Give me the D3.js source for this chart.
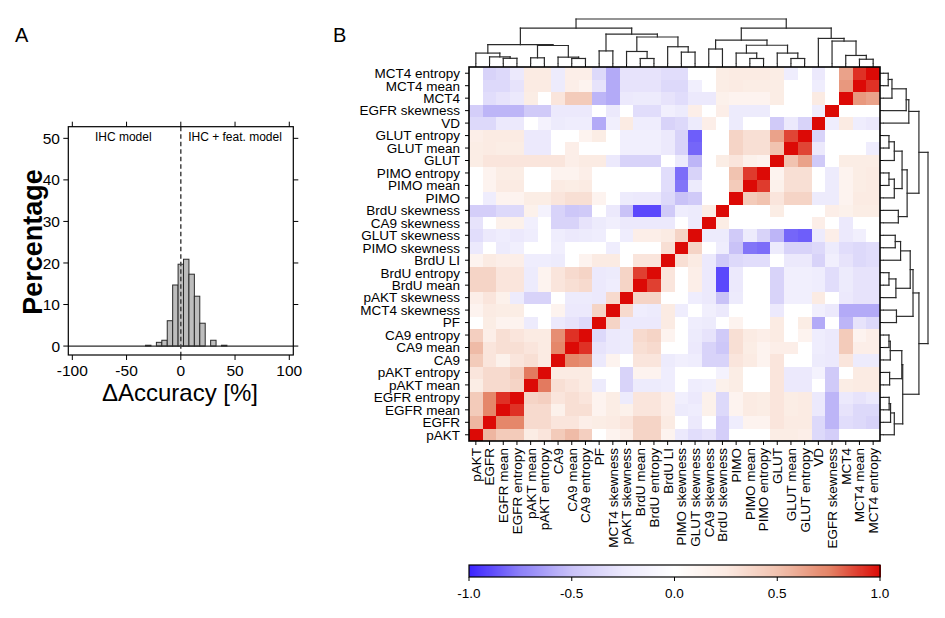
<!DOCTYPE html>
<html>
<head>
<meta charset="utf-8">
<script src="https://cdn.jsdelivr.net/npm/d3@7"></script>
<style>
  html, body { margin: 0; padding: 0; background: #fff; }
  svg { display: block; font-family: "Liberation Sans", Arial, Helvetica, sans-serif; }
</style>
</head>
<body>
<svg id="chart" width="945" height="618"></svg>
<script>
// ---------------- Panel A data ----------------
const binCenters = [-30, -25, -20, -15, -10, -5, 0, 5, 10, 15, 20, 25, 30, 35, 40];
const percentages = [0.2, 0, 0.9, 1.4, 6.1, 14.7, 19.7, 20.9, 17.3, 12.0, 5.5, 0, 1.4, 0, 0.2];
const xTicksA = [-100, -50, 0, 50, 100];
const yTicksA = [0, 10, 20, 30, 40, 50];

// ---------------- Panel B data ----------------
const features = ["pAKT","EGFR","EGFR mean","EGFR entropy","pAKT mean","pAKT entropy","CA9","CA9 mean","CA9 entropy","PF","MCT4 skewness","pAKT skewness","BrdU mean","BrdU entropy","BrdU LI","PIMO skewness","GLUT skewness","CA9 skewness","BrdU skewness","PIMO","PIMO mean","PIMO entropy","GLUT","GLUT mean","GLUT entropy","VD","EGFR skewness","MCT4","MCT4 mean","MCT4 entropy"];

// lower triangle of the correlation matrix (row i holds columns 0..i-1)
const lowerTri = [
  [],
  [0.55],
  [0.45, 0.74],
  [0.45, 0.74, 0.92],
  [0.22, 0.35, 0.35, 0.39],
  [0.28, 0.35, 0.35, 0.42, 0.77],
  [0.45, 0.28, 0.17, 0.28, 0.32, 0.24],
  [0.53, 0.28, 0.32, 0.32, 0.28, 0.24, 0.74],
  [0.42, 0.2, 0.32, 0.28, 0.24, 0.24, 0.71, 0.92],
  [0, 0.22, 0.14, 0.14, -0.22, 0, -0.24, -0.28, -0.35],
  [0.14, 0.24, 0.22, 0.22, 0, 0, 0.14, -0.24, -0.24, 0.39],
  [0.2, 0.28, 0.17, -0.22, -0.39, -0.39, 0, -0.22, -0.22, -0.24, 0.35],
  [0.39, 0.39, 0.28, 0.28, -0.22, 0.14, 0.28, 0.32, 0.35, -0.24, -0.2, 0.39],
  [0.39, 0.39, 0.28, 0.28, -0.22, 0.14, 0.28, 0.35, 0.39, -0.24, -0.22, 0.39, 0.89],
  [0.14, 0.24, 0.2, 0.2, -0.2, -0.2, -0.22, 0, 0.14, 0.24, 0.24, 0, 0.28, 0.28],
  [-0.24, 0, -0.22, -0.17, 0, 0, -0.17, 0, 0, 0, -0.2, 0, 0, 0, 0.32],
  [-0.32, -0.24, -0.2, -0.24, -0.2, 0, -0.2, -0.24, -0.22, -0.2, 0, -0.2, 0.2, 0.2, 0.24, 0.39],
  [-0.28, 0, 0.17, 0.17, -0.17, 0, -0.39, -0.39, -0.28, -0.22, -0.17, -0.24, -0.24, -0.24, -0.24, 0, -0.22],
  [-0.42, -0.42, -0.35, -0.35, 0.17, -0.14, -0.39, -0.47, -0.45, 0, -0.24, -0.5, -0.9, -0.9, -0.45, -0.2, -0.22, 0.22],
  [0, -0.2, 0.14, 0.14, 0.22, 0.22, 0.28, 0.32, 0.32, 0.14, 0, -0.22, -0.24, -0.24, -0.35, -0.5, -0.45, 0, 0],
  [0, 0.14, 0.24, 0.24, 0, 0, 0.24, 0.22, 0.24, 0, 0, 0, 0, 0, -0.32, -0.78, -0.22, 0, 0, 0.45],
  [0, 0.14, 0.22, 0.22, 0, 0, 0.14, 0.14, 0.2, 0, 0, 0, 0, 0, -0.32, -0.8, -0.39, 0, 0, 0.5, 0.9],
  [0.22, 0.28, 0.28, 0.28, 0.28, 0.28, 0.28, 0.2, 0.24, 0.24, -0.24, -0.39, -0.39, -0.39, 0, -0.22, -0.55, 0, 0.22, 0.28, 0.17, 0.14],
  [0.22, 0.24, 0.22, 0.22, -0.24, -0.24, 0, 0.2, 0, 0, 0, -0.17, -0.17, -0.17, -0.24, -0.39, -0.82, 0, 0, 0.39, 0.32, 0.32, 0.5],
  [0.2, 0.24, 0.24, 0.24, -0.24, -0.24, 0, 0, 0.14, 0.22, 0, -0.17, -0.17, -0.17, -0.24, -0.39, -0.84, 0, 0, 0.39, 0.32, 0.32, 0.63, 0.88],
  [-0.35, -0.35, -0.24, -0.24, 0, -0.14, -0.22, -0.2, -0.2, -0.59, -0.17, 0.24, -0.2, -0.2, -0.39, -0.35, -0.22, 0.2, 0, -0.22, 0, 0, -0.45, -0.24, -0.39],
  [-0.42, -0.55, -0.55, -0.55, -0.45, -0.45, -0.24, -0.24, -0.24, 0, -0.24, 0, -0.32, -0.32, -0.17, -0.22, 0.2, 0, 0.2, -0.22, -0.22, -0.22, 0, 0, 0, -0.2],
  [0, -0.32, -0.28, -0.24, 0.22, 0, 0.28, 0.45, 0.45, -0.55, -0.59, -0.24, -0.22, -0.22, -0.28, -0.32, -0.24, -0.24, 0.17, 0.14, 0.14, 0.14, 0.22, 0, 0, 0.24, 0],
  [0, -0.35, -0.35, -0.28, 0.24, 0.24, -0.22, 0.2, 0.14, -0.28, -0.59, -0.28, -0.28, -0.28, -0.35, -0.35, -0.17, 0, 0.22, 0.24, 0.22, 0.22, 0.22, 0, 0, -0.2, 0, 0.67],
  [0, -0.39, -0.35, -0.24, 0.24, 0.24, -0.22, 0.2, 0.2, -0.35, -0.59, -0.28, -0.28, -0.28, -0.32, -0.32, 0, 0, 0.22, 0.24, 0.24, 0.24, 0.22, -0.2, 0, -0.24, 0, 0.63, 0.92]
];

// dendrogram: [left, right, mergeHeight]; leaves are feature indices
const tree = [
  [
    [
      [0, [1, [2, 3, 5.5], 7], 11],
      [[4, 5, 6], [6, [7, 8, 5.3], 6.7], 19],
      20],
    [
      [9, 10, 13.3],
      [[11, [12, 13, 5.3], 12.7], [14, [15, 16, 12], 17.7], 28],
      31],
    37.3],
  [
    [
      [17, 18, 15.3],
      [[19, [20, 21, 5.3], 11], [22, [23, 24, 5.3], 11], 19.3],
      24.7],
    [25, [26, [27, [28, 29, 4.5], 8.5], 23.7], 26.5],
    37.3],
  47];

const colorStops = [-1, -0.75, -0.5, -0.25, 0, 0.25, 0.5, 0.75, 1];
const colorValues = ["#3a22ff", "#8c80f7", "#c9c2f7", "#ebe8fc", "#ffffff", "#fbeae2", "#f1c3b0", "#e48467", "#dc0a06"];
const colorbarTicks = [-1, -0.5, 0, 0.5, 1];

// ---------------- Drawing ----------------
const svg = d3.select("#chart");

// ===== Panel A =====
const boxA = {l: 68.3, r: 293.3, t: 126.7, b: 355};
const xA = d3.scaleLinear().domain([-103.7, 103.7]).range([boxA.l, boxA.r]);
const yA = d3.scaleLinear().domain([-2.15, 52.8]).range([boxA.b, boxA.t]);
const gA = svg.append("g");

gA.append("text").attr("x", 15).attr("y", 42).attr("font-size", 20).text("A");

// bars
gA.selectAll("rect.bar").data(binCenters.map((c, i) => ({c, v: percentages[i]})).filter(d => d.v > 0))
  .join("rect").attr("class", "bar")
  .attr("x", d => xA(d.c - 2.5)).attr("width", d => xA(d.c + 2.5) - xA(d.c - 2.5))
  .attr("y", d => yA(d.v)).attr("height", d => yA(0) - yA(d.v))
  .attr("fill", "#bdbdbd").attr("stroke", "#2a2a2a").attr("stroke-width", 1);

// zero baseline
gA.append("line").attr("x1", boxA.l).attr("x2", boxA.r).attr("y1", yA(0)).attr("y2", yA(0))
  .attr("stroke", "#2a2a2a").attr("stroke-width", 1.2);
// dashed line at 0
gA.append("line").attr("x1", xA(0)).attr("x2", xA(0)).attr("y1", boxA.t).attr("y2", boxA.b)
  .attr("stroke", "#444").attr("stroke-width", 1.5).attr("stroke-dasharray", "4.5,3");

// box
gA.append("rect").attr("x", boxA.l).attr("y", boxA.t).attr("width", boxA.r - boxA.l).attr("height", boxA.b - boxA.t)
  .attr("fill", "none").attr("stroke", "#000").attr("stroke-width", 1.2);

// ticks on all sides
const tickLen = 5;
xTicksA.forEach(v => {
  gA.append("line").attr("x1", xA(v)).attr("x2", xA(v)).attr("y1", boxA.b).attr("y2", boxA.b + tickLen).attr("stroke", "#000");
  gA.append("line").attr("x1", xA(v)).attr("x2", xA(v)).attr("y1", boxA.t).attr("y2", boxA.t - tickLen).attr("stroke", "#000");
  gA.append("text").attr("x", xA(v)).attr("y", 376).attr("text-anchor", "middle").attr("font-size", 15.5).text(String(v));
});
yTicksA.forEach(v => {
  gA.append("line").attr("x1", boxA.l).attr("x2", boxA.l - tickLen).attr("y1", yA(v)).attr("y2", yA(v)).attr("stroke", "#000");
  gA.append("line").attr("x1", boxA.r).attr("x2", boxA.r + tickLen).attr("y1", yA(v)).attr("y2", yA(v)).attr("stroke", "#000");
  gA.append("text").attr("x", 60).attr("y", yA(v)).attr("dy", "0.36em").attr("text-anchor", "end").attr("font-size", 15.5).text(String(v));
});

gA.append("text").attr("x", xA(-53)).attr("y", 141).attr("text-anchor", "middle").attr("font-size", 12).text("IHC model");
gA.append("text").attr("x", xA(50)).attr("y", 141).attr("text-anchor", "middle").attr("font-size", 12).text("IHC + feat. model");

gA.append("text").attr("transform", "translate(42,242) rotate(-90)").attr("text-anchor", "middle")
  .attr("font-size", 27).attr("font-weight", "bold").text("Percentage");
gA.append("text").attr("x", 180).attr("y", 401).attr("text-anchor", "middle").attr("font-size", 24).text("\u0394Accuracy [%]");

// ===== Panel B =====
const gB = svg.append("g");
gB.append("text").attr("x", 333).attr("y", 42).attr("font-size", 20).text("B");

const n = features.length;
const M = d3.range(n).map(i => d3.range(n).map(j => i === j ? 1 : (i > j ? lowerTri[i][j] : lowerTri[j][i])));
const hm = {l: 469, r: 880, t: 67, b: 441};
const xB = d3.scaleBand().domain(d3.range(n)).range([hm.l, hm.r]);
const yB = d3.scaleBand().domain(d3.range(n).reverse()).range([hm.t, hm.b]);
const color = d3.scaleLinear().domain(colorStops).range(colorValues).interpolate(d3.interpolateRgb).clamp(true);

const cells = [];
M.forEach((row, i) => row.forEach((v, j) => cells.push({i, j, v})));
gB.selectAll("rect.cell").data(cells).join("rect").attr("class", "cell")
  .attr("x", d => xB(d.j)).attr("y", d => yB(d.i))
  .attr("width", xB.bandwidth() + 0.4).attr("height", yB.bandwidth() + 0.4)
  .attr("fill", d => color(d.v)).attr("shape-rendering", "crispEdges");

gB.append("rect").attr("x", hm.l).attr("y", hm.t).attr("width", hm.r - hm.l).attr("height", hm.b - hm.t)
  .attr("fill", "none").attr("stroke", "#000").attr("stroke-width", 1.6);

// ticks on all sides + labels
d3.range(n).forEach(k => {
  const cx = xB(k) + xB.bandwidth() / 2;
  const cy = yB(k) + yB.bandwidth() / 2;
  gB.append("line").attr("x1", cx).attr("x2", cx).attr("y1", hm.b).attr("y2", hm.b + 4).attr("stroke", "#000");
  gB.append("line").attr("x1", cx).attr("x2", cx).attr("y1", hm.t).attr("y2", hm.t - 3.5).attr("stroke", "#000");
  gB.append("line").attr("x1", hm.l).attr("x2", hm.l - 4).attr("y1", cy).attr("y2", cy).attr("stroke", "#000");
  gB.append("line").attr("x1", hm.r).attr("x2", hm.r + 4).attr("y1", cy).attr("y2", cy).attr("stroke", "#000");
  gB.append("text").attr("x", hm.l - 9).attr("y", cy).attr("dy", "0.36em").attr("text-anchor", "end")
    .attr("font-size", 13.5).text(features[k]);
  gB.append("text").attr("transform", `translate(${cx},${hm.b + 7}) rotate(-90)`).attr("dy", "0.36em")
    .attr("text-anchor", "end").attr("font-size", 13.5).text(features[k]);
});

// dendrograms
const hTop = d3.scaleLinear().domain([0, 47]).range([63.5, 19]);
const hRight = d3.scaleLinear().domain([0, 47]).range([884, 928]);
const segsTop = [], segsRight = [];
function walk(node) {
  if (typeof node === "number") return {h: 0, px: xB(node) + xB.bandwidth() / 2, py: yB(node) + yB.bandwidth() / 2};
  const a = walk(node[0]), b = walk(node[1]), h = node[2];
  [a, b].forEach(c => {
    segsTop.push([c.px, hTop(c.h), c.px, hTop(h)]);
    segsRight.push([hRight(c.h), c.py, hRight(h), c.py]);
  });
  segsTop.push([a.px, hTop(h), b.px, hTop(h)]);
  segsRight.push([hRight(h), a.py, hRight(h), b.py]);
  return {h, px: (a.px + b.px) / 2, py: (a.py + b.py) / 2};
}
walk(tree);
const dendroG = gB.append("g").attr("stroke", "#2a2a2a").attr("stroke-width", 1.2).attr("fill", "none");
dendroG.selectAll("line.t").data(segsTop).join("line").attr("class", "t")
  .attr("x1", d => d[0]).attr("y1", d => d[1]).attr("x2", d => d[2]).attr("y2", d => d[3]).attr("stroke-linecap", "square");
dendroG.selectAll("line.r").data(segsRight).join("line").attr("class", "r")
  .attr("x1", d => d[0]).attr("y1", d => d[1]).attr("x2", d => d[2]).attr("y2", d => d[3]).attr("stroke-linecap", "square");

// colorbar
const cb = {l: 469, r: 880, t: 565, b: 577};
const xCB = d3.scaleLinear().domain([-1, 1]).range([cb.l, cb.r]);
const steps = d3.range(-1, 1, 0.005);
gB.selectAll("rect.cb").data(steps).join("rect").attr("class", "cb")
  .attr("x", d => xCB(d)).attr("width", xCB(0.005) - xCB(0) + 0.5)
  .attr("y", cb.t).attr("height", cb.b - cb.t)
  .attr("fill", d => color(d + 0.0025)).attr("shape-rendering", "crispEdges");
gB.append("rect").attr("x", cb.l).attr("y", cb.t).attr("width", cb.r - cb.l).attr("height", cb.b - cb.t)
  .attr("fill", "none").attr("stroke", "#000").attr("stroke-width", 1.2);
colorbarTicks.forEach(v => {
  gB.append("line").attr("x1", xCB(v)).attr("x2", xCB(v)).attr("y1", cb.b).attr("y2", cb.b + 4).attr("stroke", "#000");
  gB.append("text").attr("x", xCB(v)).attr("y", 598).attr("text-anchor", "middle").attr("font-size", 13.5)
    .text(v.toFixed(1));
});
</script>
</body>
</html>
